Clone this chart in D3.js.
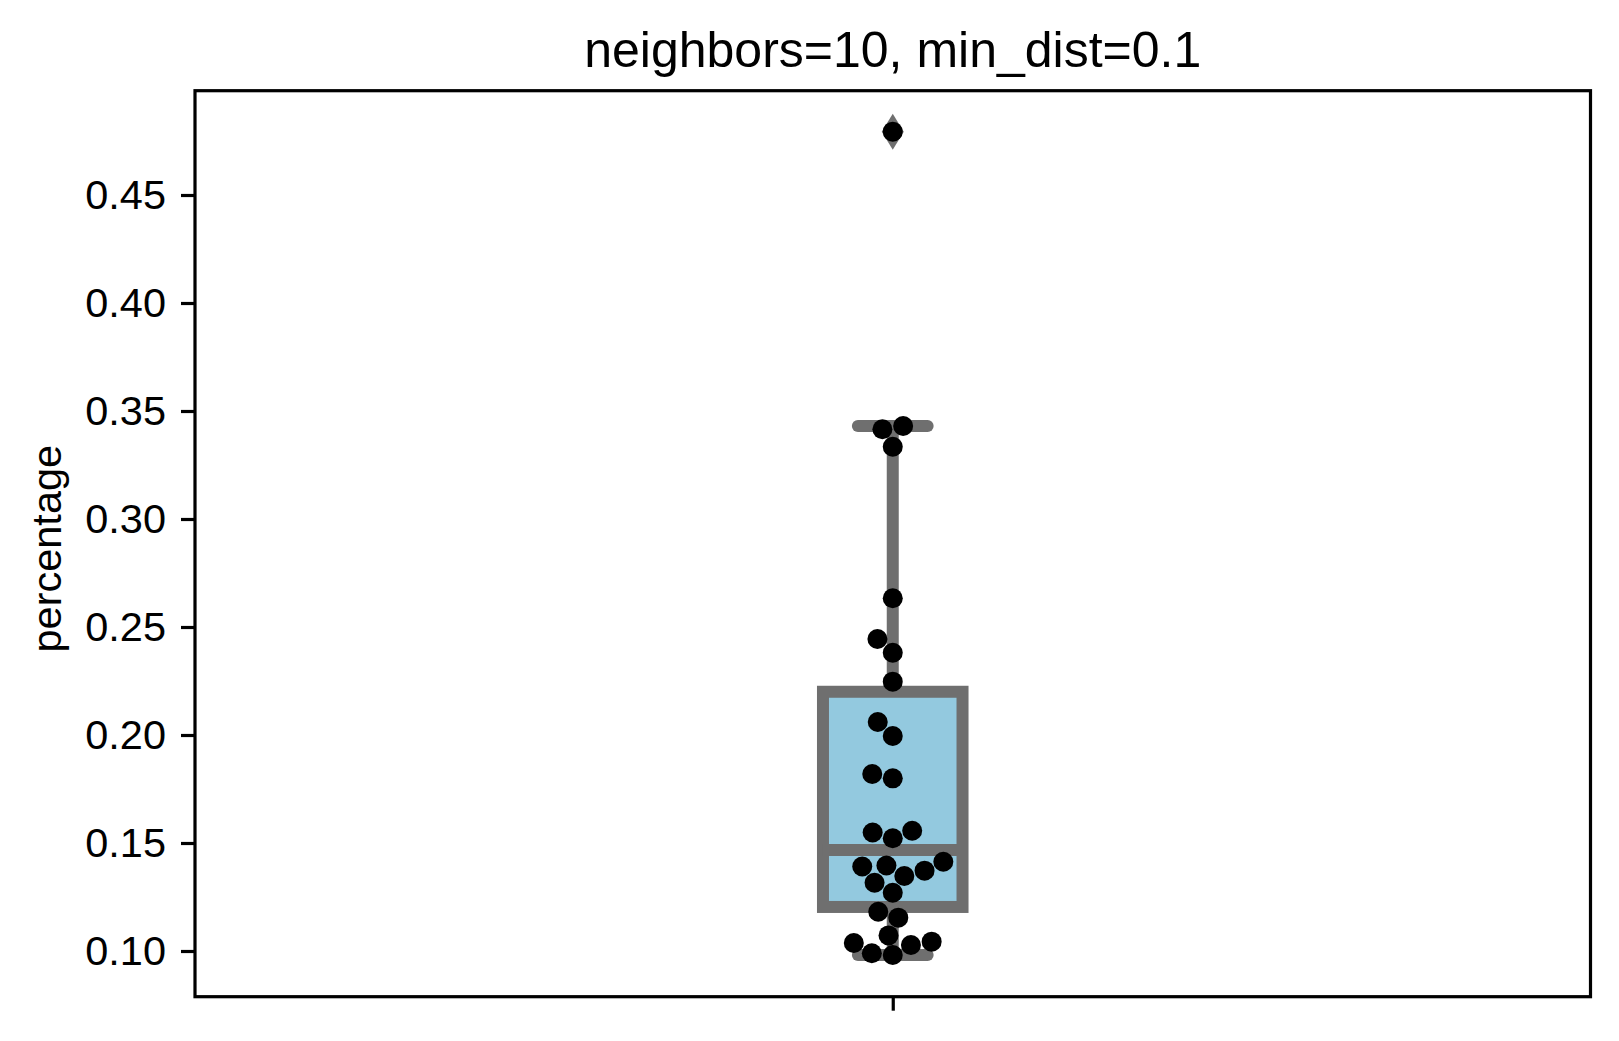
<!DOCTYPE html>
<html>
<head>
<meta charset="utf-8">
<script src="https://cdn.jsdelivr.net/npm/d3@7"></script>
<style>
    body { margin: 0; background: #ffffff; }
    svg { display: block; font-family: "Liberation Sans", Arial, sans-serif; }
</style>
</head>
<body>
<svg id="swarm_box_graph"></svg>
<script>
// Chart data
const title = "neighbors=10, min_dist=0.1"
const yLabel = "percentage"
const categories = [""]
const yTicks = [0.10, 0.15, 0.20, 0.25, 0.30, 0.35, 0.40, 0.45]
const percentage = [
    0.47931, 0.34306, 0.34153, 0.33347, 0.26329, 0.24444, 0.23810, 0.22468,
    0.20602, 0.19954, 0.18194, 0.17995, 0.15569, 0.15486, 0.15218, 0.14134,
    0.13958, 0.13912, 0.13718, 0.13472, 0.13162, 0.12699, 0.11819, 0.11542,
    0.10722, 0.10431, 0.10370, 0.10278, 0.09894, 0.09815
]

const boxFill = "#93c9df"
const lineGray = "#6f6f6f"

// seaborn-like swarm placement, in pixel space
function beeswarm(ys, midline, r) {
    const swarm = []
    ys.forEach(function(y, i) {
        if (i === 0) {
            swarm.push({ x: midline, y: y })
            return
        }
        const neighbors = []
        for (let j = swarm.length - 1; j >= 0; j--) {
            if (Math.abs(y - swarm[j].y) < 2 * r) neighbors.push(swarm[j])
            else break
        }
        let candidates = [{ x: midline, y: y }]
        let leftFirst = true
        neighbors.forEach(function(n) {
            const dy = y - n.y
            const dx = Math.sqrt(Math.max(4 * r * r - dy * dy, 0)) * 1.05
            const cl = { x: n.x - dx, y: y }, cr = { x: n.x + dx, y: y }
            if (leftFirst) candidates.push(cl, cr)
            else candidates.push(cr, cl)
            leftFirst = !leftFirst
        })
        candidates = candidates
            .map(function(c, k) { return { c: c, k: k } })
            .sort(function(a, b) {
                return (Math.abs(a.c.x - midline) - Math.abs(b.c.x - midline)) || (a.k - b.k)
            })
            .map(function(d) { return d.c })

        let chosen = candidates[0]
        if (neighbors.length > 0) {
            for (const c of candidates) {
                const ok = neighbors.every(function(n) {
                    return (n.x - c.x) ** 2 + (n.y - c.y) ** 2 >= 4 * r * r
                })
                if (ok) { chosen = c; break }
            }
        }
        swarm.push(chosen)
    })
    return swarm
}

function createGraph() {

    const W = 1619, H = 1041
    const margin = { top: 90.7, right: 28.5, bottom: 44.3, left: 195 }
    const width = W - margin.left - margin.right
    const height = H - margin.top - margin.bottom

    const svg = d3.select("#swarm_box_graph")
        .attr("width", W)
        .attr("height", H)

    const g = svg.append("g")
        .attr("transform", `translate(${margin.left},${margin.top})`)

    const xScale = d3.scaleLinear()
        .domain([-0.5, categories.length - 0.5])
        .range([0, width])

    const yScale = d3.scaleLinear()
        .domain([0.078843, 0.498287])
        .range([height, 0])

    // Box statistics
    const sorted = percentage.slice().sort(d3.ascending)
    const q1 = d3.quantile(sorted, 0.25)
    const med = d3.quantile(sorted, 0.5)
    const q3 = d3.quantile(sorted, 0.75)
    const iqr = q3 - q1
    const inside = sorted.filter(function(v) { return v >= q1 - 1.5 * iqr && v <= q3 + 1.5 * iqr })
    const whiskLo = d3.min(inside)
    const whiskHi = d3.max(inside)
    const fliers = sorted.filter(function(v) { return v < whiskLo || v > whiskHi })

    const boxWidth = 0.1
    const cx = xScale(0)
    const bx0 = xScale(-boxWidth / 2), bx1 = xScale(boxWidth / 2)
    const cx0 = xScale(-boxWidth / 4), cx1 = xScale(boxWidth / 4)

    // whiskers
    g.append("line")
        .attr("x1", cx).attr("x2", cx)
        .attr("y1", yScale(q3)).attr("y2", yScale(whiskHi))
        .attr("stroke", lineGray).attr("stroke-width", 12)
    g.append("line")
        .attr("x1", cx).attr("x2", cx)
        .attr("y1", yScale(q1)).attr("y2", yScale(whiskLo))
        .attr("stroke", lineGray).attr("stroke-width", 12)

    // caps
    ;[whiskLo, whiskHi].forEach(function(v) {
        g.append("line")
            .attr("x1", cx0).attr("x2", cx1)
            .attr("y1", yScale(v)).attr("y2", yScale(v))
            .attr("stroke", lineGray).attr("stroke-width", 12)
            .attr("stroke-linecap", "round")
    })

    // box
    g.append("rect")
        .attr("x", bx0)
        .attr("y", yScale(q3))
        .attr("width", bx1 - bx0)
        .attr("height", yScale(q1) - yScale(q3))
        .attr("fill", boxFill)
        .attr("stroke", lineGray)
        .attr("stroke-width", 12)

    // median
    g.append("line")
        .attr("x1", bx0).attr("x2", bx1)
        .attr("y1", yScale(med)).attr("y2", yScale(med))
        .attr("stroke", lineGray).attr("stroke-width", 12)

    // fliers (thin diamonds)
    g.selectAll(".flier")
        .data(fliers)
        .enter()
        .append("path")
        .attr("class", "flier")
        .attr("fill", lineGray)
        .attr("d", function(v) {
            const y = yScale(v), h = 18, w = 11
            return `M${cx},${y - h}L${cx + w},${y}L${cx},${y + h}L${cx - w},${y}Z`
        })

    // swarm points
    const r = 10
    const pts = beeswarm(sorted.map(function(v) { return yScale(v) }), cx, r)
    g.selectAll(".dot")
        .data(pts)
        .enter()
        .append("circle")
        .attr("class", "dot")
        .attr("cx", function(d) { return d.x })
        .attr("cy", function(d) { return d.y })
        .attr("r", r)
        .attr("fill", "#000000")

    // Y axis
    const yAxis = g.append("g")
        .call(d3.axisLeft(yScale).tickValues(yTicks).tickFormat(d3.format(".2f")).tickSize(14).tickPadding(15))
    yAxis.select(".domain").remove()
    yAxis.selectAll(".tick line").attr("stroke", "#000").attr("stroke-width", 3.2)
    yAxis.selectAll(".tick text")
        .attr("font-size", 41.5)
        .attr("fill", "#000")
        .attr("font-family", "Liberation Sans, Arial, sans-serif")

    // X axis (single unlabeled category)
    const xAxis = g.append("g")
        .attr("transform", `translate(0,${height})`)
        .call(d3.axisBottom(xScale).tickValues([0]).tickFormat(function(d) { return categories[d] }).tickSize(14))
    xAxis.select(".domain").remove()
    xAxis.selectAll(".tick line").attr("stroke", "#000").attr("stroke-width", 3.2)

    // frame
    g.append("rect")
        .attr("x", 0).attr("y", 0)
        .attr("width", width).attr("height", height)
        .attr("fill", "none")
        .attr("stroke", "#000")
        .attr("stroke-width", 3.2)

    loadTitles(svg, margin, width, height)
}

function loadTitles(svg, margin, width, height) {
    // Title
    svg.append("text")
        .attr("x", margin.left + width / 2)
        .attr("y", margin.top - 24)
        .attr("text-anchor", "middle")
        .attr("font-size", 50)
        .attr("fill", "#000")
        .text(title)

    // Y label
    svg.append("text")
        .attr("transform", `translate(61,${margin.top + height / 2 + 5}) rotate(-90)`)
        .attr("text-anchor", "middle")
        .attr("font-size", 41.5)
        .attr("fill", "#000")
        .text(yLabel)
}

createGraph()
</script>
</body>
</html>
